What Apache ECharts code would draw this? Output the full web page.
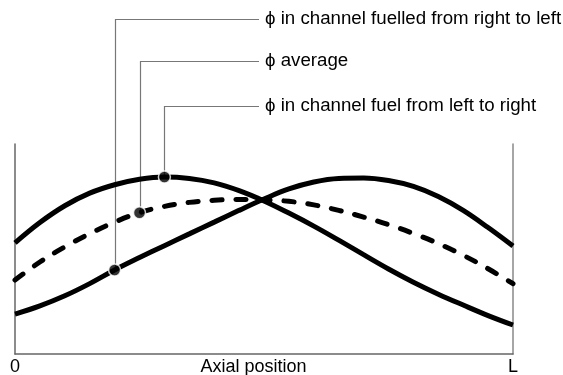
<!DOCTYPE html>
<html>
<head>
<meta charset="utf-8">
<script src="https://cdn.jsdelivr.net/npm/echarts@6/dist/echarts.min.js"></script>
<style>
  html, body { margin: 0; padding: 0; background: #fff; }
  #main { width: 563px; height: 375px; }
</style>
</head>
<body>
<div id="main"></div>
<script>
// Axial position, as a percentage of the channel length L
var positions = [0, 5, 10, 15, 20, 25, 30, 35, 40, 45, 50, 55, 60, 65, 70, 75, 80, 85, 90, 95, 100];
// Relative flux in the channel fuelled from left to right
var fluxLeftToRight = [52.9, 62.6, 70.6, 76.6, 80.6, 83.2, 84.3, 83.6, 81.5, 77.8, 72.9, 67.1, 60.9, 54.2, 47.3, 40.5, 34.2, 28.5, 23.3, 18.3, 13.8];
// Relative flux in the channel fuelled from right to left
var fluxRightToLeft = [19.0, 22.9, 27.7, 33.5, 40.0, 45.9, 51.6, 57.2, 62.8, 68.4, 73.8, 78.6, 81.9, 83.6, 83.8, 82.6, 79.8, 75.0, 68.4, 60.2, 51.4];
// Average flux
var fluxAverage = [35.2, 43.8, 51.0, 57.3, 62.8, 67.3, 70.3, 72.2, 73.2, 73.6, 73.4, 72.7, 71.0, 68.4, 65.2, 61.6, 57.4, 52.6, 47.0, 40.6, 33.5];
// Annotation texts and the sample index each one points to
var labelTexts = ['\u03D5 in channel fuelled from right to left', '\u03D5 average', '\u03D5 in channel fuel from left to right'];
var labelSeries = [fluxRightToLeft, fluxAverage, fluxLeftToRight];
var labelIndex = [4, 5, 6];
var xLabels = ['0', 'L'];
var xName = 'Axial position';

function pairs(ys) { return positions.map(function (x, i) { return [x, ys[i]]; }); }

var FONT = 'Liberation Sans, Arial, Helvetica, sans-serif';
var chart = echarts.init(document.getElementById('main'), null, { renderer: 'canvas' });

var curveStyle = { color: '#000', width: 5 };
var option = {
  animation: false,
  backgroundColor: '#fff',
  grid: { left: 15, right: 50, top: 144, bottom: 21, containLabel: false, outerBoundsMode: 'none' },
  xAxis: {
    type: 'value', min: 0, max: 100, interval: 100,
    axisLine: { show: true, lineStyle: { color: '#666', width: 1.5 } },
    axisTick: { show: false },
    splitLine: { show: false },
    axisLabel: {
      margin: 4, color: '#000', fontSize: 18, fontFamily: FONT,
      formatter: function (v) { return v === 0 ? xLabels[0] : (v === 100 ? xLabels[1] : ''); }
    },
    name: xName, nameLocation: 'middle', nameGap: 4, nameMoveOverlap: false,
    nameTextStyle: { color: '#000', fontSize: 18, fontFamily: FONT, padding: [0, 21, 0, 0] }
  },
  yAxis: [
    { type: 'value', min: 0, max: 100, position: 'left',
      axisLine: { show: true, lineStyle: { color: '#666', width: 1.5 } },
      axisTick: { show: false }, axisLabel: { show: false }, splitLine: { show: false } },
    { type: 'value', min: 0, max: 100, position: 'right',
      axisLine: { show: true, lineStyle: { color: '#888', width: 1.5 } },
      axisTick: { show: false }, axisLabel: { show: false }, splitLine: { show: false } }
  ],
  series: [
    { name: 'left to right', type: 'line', data: pairs(fluxLeftToRight), smooth: 0.4,
      showSymbol: false, lineStyle: curveStyle, z: 3 },
    { name: 'right to left', type: 'line', data: pairs(fluxRightToLeft), smooth: 0.4,
      showSymbol: false, lineStyle: curveStyle, z: 3 },
    { name: 'average', type: 'line', data: pairs(fluxAverage), smooth: 0.4,
      showSymbol: false, lineStyle: { color: '#000', width: 5, type: [10, 14], cap: 'round' }, z: 3 },
    { name: 'dots', type: 'scatter', symbol: 'circle', symbolSize: 12, z: 5,
      itemStyle: { color: '#000', borderColor: '#fff', borderWidth: 1.5 },
      data: labelSeries.map(function (s, k) { return [positions[labelIndex[k]], s[labelIndex[k]]]; }) }
  ]
};
chart.setOption(option);

// Leader lines from each dot up to its label
var labelY = [19, 61, 106];
var lineEndX = 259, textX = 265;
var graphics = [];
labelSeries.forEach(function (s, k) {
  var p = chart.convertToPixel({ xAxisIndex: 0, yAxisIndex: 0 }, [positions[labelIndex[k]], s[labelIndex[k]]]);
  graphics.push({
    type: 'polyline', z: 1, silent: true,
    shape: { points: [[Math.round(p[0]) + 0.5, p[1]], [Math.round(p[0]) + 0.5, labelY[k] + 0.5], [lineEndX, labelY[k] + 0.5]] },
    style: { stroke: '#777', lineWidth: 1.2, fill: null }
  });
  graphics.push({
    type: 'text', z: 1, x: textX, y: labelY[k],
    style: { text: labelTexts[k], fill: '#000', font: '18.7px ' + FONT, verticalAlign: 'middle', align: 'left' }
  });
});
chart.setOption({ graphic: graphics });
</script>
</body>
</html>
